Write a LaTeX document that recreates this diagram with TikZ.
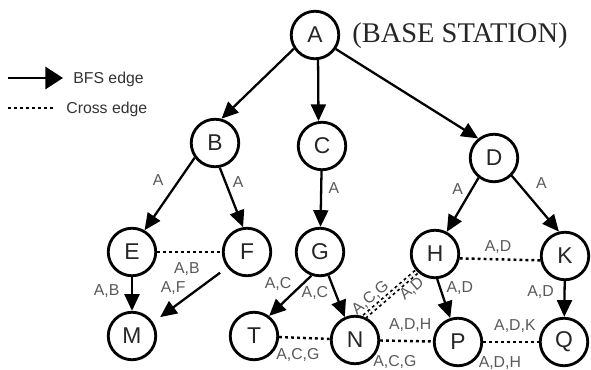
\documentclass[tikz,border=0pt]{standalone}
\usepackage{fontspec}
\setmainfont{Liberation Serif}
\setsansfont{Liberation Sans}
\usetikzlibrary{arrows.meta}

\begin{document}
\begin{tikzpicture}[
  vertex/.style={circle, draw, line width=1.6pt, minimum size=0.95cm, inner sep=0pt, font=\sffamily\fontsize{13}{15}\selectfont, text=black!85},
  bfs/.style={line width=1.3pt, -{Triangle[length=9.5pt,width=8.5pt]}},
  cross/.style={line width=1.4pt, dash pattern=on 1.6pt off 1.8pt},
  lbl/.style={font=\sffamily\fontsize{9}{10}\selectfont, text=black!65, inner sep=0.5pt}
]
  \useasboundingbox (0,0) rectangle (11.82,7.38);
  \node[vertex] (A) at (6.30,6.68) {A};
  \node[vertex] (B) at (4.30,4.52) {B};
  \node[vertex] (C) at (6.44,4.46) {C};
  \node[vertex] (D) at (9.88,4.22) {D};
  \node[vertex] (E) at (2.64,2.34) {E};
  \node[vertex] (F) at (4.94,2.34) {F};
  \node[vertex] (G) at (6.40,2.34) {G};
  \node[vertex] (H) at (8.70,2.30) {H};
  \node[vertex] (K) at (11.30,2.26) {K};
  \node[vertex] (M) at (2.64,0.66) {M};
  \node[vertex] (T) at (5.08,0.66) {T};
  \node[vertex] (N) at (7.10,0.58) {N};
  \node[vertex] (P) at (9.16,0.54) {P};
  \node[vertex] (Q) at (11.28,0.54) {Q};
  \node[anchor=base west, inner sep=0pt, text=black!85, font=\fontsize{16.2}{18}\selectfont] (base) at (7.04,6.54) {(BASE STATION)};

  \draw[bfs] (A.213) -- (B.75);
  \draw[bfs] (A.277) -- (C.98);
  \draw[bfs] (A.326) -- (D.129);
  \draw[bfs] (B.216) -- node[lbl, pos=.48, above left=3pt] {A} (E.60);
  \draw[bfs] (B.281) -- node[lbl, pos=.25, right=3pt] {A} (F.99);
  \draw[bfs] (C) -- node[lbl, pos=.3, right=3pt] {A} (G);
  \draw[bfs] (D.232) -- node[lbl, pos=.37, above left=1pt] {A} (H.62);
  \draw[bfs] (D.315) -- node[lbl, pos=.36, above right=3pt] {A} (K.104);
  \draw[bfs] (E) -- node[lbl, pos=.41, left=6pt] {A,B} (M);
  \draw[bfs, shorten <=5pt, shorten >=5pt] (F.218) -- node[lbl, pos=.56, above left=1pt, xshift=2pt] {A,F} (M.33);
  \draw[bfs] (G.250) -- node[lbl, pos=.43, above left] {A,C} (T.53);
  \draw[bfs] (G.290) -- node[lbl, pos=.42, left=3pt] {A,C} (N.114);
  \draw[bfs] (H.275) -- node[lbl, pos=.23, right=2.5pt] {A,D} (P.108);
  \draw[bfs] (K) -- node[lbl, pos=.3, left=5pt] {A,D} (Q);

  \draw[cross] (E) -- node[lbl, pos=.46, below=5pt] {A,B} (F);
  \draw[cross] (T) -- node[lbl, pos=.37, below=5pt] {A,C,G} (N);
  \draw[cross, line width=1pt, double, double distance=1.2pt] (N.68) -- node[lbl, pos=.24, above=1pt, sloped] {A,C,G} node[lbl, pos=.78, below=1pt, sloped] {A,D} (H.224);
  \draw[cross] (H.-10) -- node[lbl, pos=.475, above=2pt] {A,D} (K.190);
  \draw[cross] (N) -- node[lbl, pos=.57, above=4pt] {A,D,H} node[lbl, pos=.28, below=7pt] {A,C,G} (P);
  \draw[cross] (P) -- node[lbl, pos=.57, above=4pt] {A,D,K} node[lbl, pos=.3, below=7pt] {A,D,H} (Q);

  \coordinate (bfs0) at (0.16,5.82);
  \coordinate (bfs1) at (1.26,5.82);
  \coordinate (crs0) at (0.16,5.22);
  \coordinate (crs1) at (1.10,5.22);
  \draw[line width=1.7pt, -{Triangle[length=10pt,width=12.5pt]}] (bfs0) -- (bfs1);
  \draw[cross] (crs0) -- (crs1);
  \node[anchor=base west, inner sep=0pt, text=black!80, font=\sffamily\fontsize{9}{10}\selectfont] (bfstext) at (1.46,5.72) {BFS edge};
  \node[anchor=base west, inner sep=0pt, text=black!80, font=\sffamily\fontsize{9}{10}\selectfont] (crosstext) at (1.32,5.12) {Cross edge};
\end{tikzpicture}
\end{document}
